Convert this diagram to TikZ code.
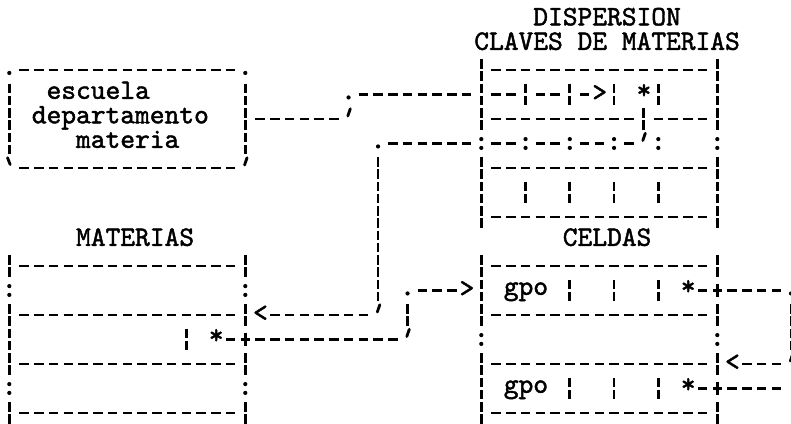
\documentclass[tikz,border=0pt]{standalone}
\usepackage{fontspec}
\newfontfamily\twfont{lmmono10-regular.otf}[FakeBold=1.6]
\usepackage{tikz}
\usetikzlibrary{calc}

% typewriter pieces: one column = one character, one row = one line
\newcommand{\dashrow}[3]{\draw[hdash] (#1-0.322,#3) -- (#2+0.322,#3);}
\newcommand{\barrun}[3]{\draw[vbar] (#1,#2-0.5) -- (#1,#3+0.5);}
\newcommand{\colmark}[2]{\fill (#1,#2-0.18) circle[radius=1.05pt] (#1,#2+0.18) circle[radius=1.05pt];}
\newcommand{\dotmark}[2]{\fill (#1,#2+0.12) circle[radius=1.05pt];}
\newcommand{\tickmark}[2]{\draw[tick] (#1+0.12,#2-0.42) -- (#1-0.05,#2-0.12);}
\newcommand{\plusmark}[2]{\draw[line width=1.35pt] (#1-0.3,#2) -- (#1+0.3,#2) (#1,#2-0.28) -- (#1,#2+0.28);}

\begin{document}
\begin{tikzpicture}[
    x=7.375pt, y=-12.25pt,
    every node/.style={font=\twfont\fontsize{14.05pt}{16pt}\selectfont,
        inner sep=0pt, anchor=mid west},
    hdash/.style={line width=1.35pt, dash pattern=on 4.75pt off 2.625pt},
    vbar/.style={line width=1.35pt, dash pattern=on 4.75pt off 1.375pt, dash phase=5.4375pt},
    tick/.style={line width=1.4pt, line cap=round},
    arrowc/.style={yshift=-1pt}
]
\useasboundingbox (-0.6305,-0.857) rectangle (52.997,16.449);

% --- Titles ---
\node (disp) at (35.5,0) {DISPERSION};
\node (claves) at (31.5,1) {CLAVES DE MATERIAS};
\node (materias) at (4.5,9) {MATERIAS};
\node (celdas) at (37.5,9) {CELDAS};

% --- Key box ---
\dashrow{1}{15}{2} \dashrow{1}{15}{6}
\dotmark{0}{2} \dotmark{16}{2}
\barrun{0}{3}{5} \barrun{16}{3}{5}
\draw[tick] (-0.12,5.58) -- (0.06,5.86);
\tickmark{16}{6}
\node (esc) at (2.5,3) {escuela};
\node (depto) at (1.5,4) {departamento};
\node (mat) at (4.5,5) {materia};

% key -> dispersion
\dashrow{17}{22}{4} \tickmark{23}{4}
\dotmark{23}{3} \dashrow{24}{31}{3}

% --- Dispersion table ---
\barrun{32}{2}{4} \colmark{32}{5} \barrun{32}{6}{8}
\barrun{48}{2}{4} \colmark{48}{5} \barrun{48}{6}{8}
\foreach \r in {2,6,8} {\dashrow{33}{47}{\r}}
\dashrow{33}{34}{3} \dashrow{36}{37}{3} \dashrow{39}{39}{3}
\node[arrowc] (dArr) at (39.5,3) {>};
\node (dStar) at (42.5,3) {*};
\foreach \k in {35,38,41,44} {\barrun{\k}{3}{3} \barrun{\k}{7}{7} \colmark{\k}{5}}
\dashrow{33}{42}{4} \barrun{43}{4}{4} \dashrow{44}{47}{4}
\dashrow{33}{34}{5} \dashrow{36}{37}{5} \dashrow{39}{40}{5} \dashrow{42}{42}{5}
\tickmark{43}{5}

% dispersion -> materias
\dashrow{26}{31}{5} \dotmark{25}{5}
\barrun{25}{6}{11} \tickmark{25}{12}
\dashrow{18}{24}{12}
\node[arrowc] (mArr) at (16.5,12) {<};

% --- Materias table ---
\barrun{0}{10}{10} \colmark{0}{11} \barrun{0}{12}{14} \colmark{0}{15} \barrun{0}{16}{16}
\barrun{16}{10}{10} \colmark{16}{11} \barrun{16}{12}{12} \plusmark{16}{13}
\barrun{16}{14}{14} \colmark{16}{15} \barrun{16}{16}{16}
\foreach \r in {10,12,14,16} {\dashrow{1}{15}{\r}}
\barrun{12}{13}{13}
\node (mStar) at (13.5,13) {*};
\dashrow{15}{15}{13}

% materias -> celdas
\dashrow{17}{26}{13} \tickmark{27}{13}
\barrun{27}{12}{12} \dotmark{27}{11}
\dashrow{28}{30}{11}
\node[arrowc] (cArr) at (30.5,11) {>};

% --- Celdas table ---
\barrun{32}{10}{12} \colmark{32}{13} \barrun{32}{14}{16}
\barrun{48}{10}{10} \plusmark{48}{11} \barrun{48}{12}{12} \colmark{48}{13}
\barrun{48}{14}{14} \plusmark{48}{15} \barrun{48}{16}{16}
\foreach \r in {10,12,14,16} {\dashrow{33}{47}{\r}}
\foreach \r in {11,15} {
    \node (gpo\r) at (33.5,\r) {gpo};
    \foreach \k in {38,41,44} {\barrun{\k}{\r}{\r}}
    \node (cStar\r) at (45.5,\r) {*};
    \dashrow{47}{47}{\r} \dashrow{49}{52}{\r}
}

% celdas -> next celda
\dotmark{53}{11} \barrun{53}{12}{13} \tickmark{53}{14}
\dashrow{50}{52}{14}
\node[arrowc] (nArr) at (48.5,14) {<};

\end{tikzpicture}
\end{document}
